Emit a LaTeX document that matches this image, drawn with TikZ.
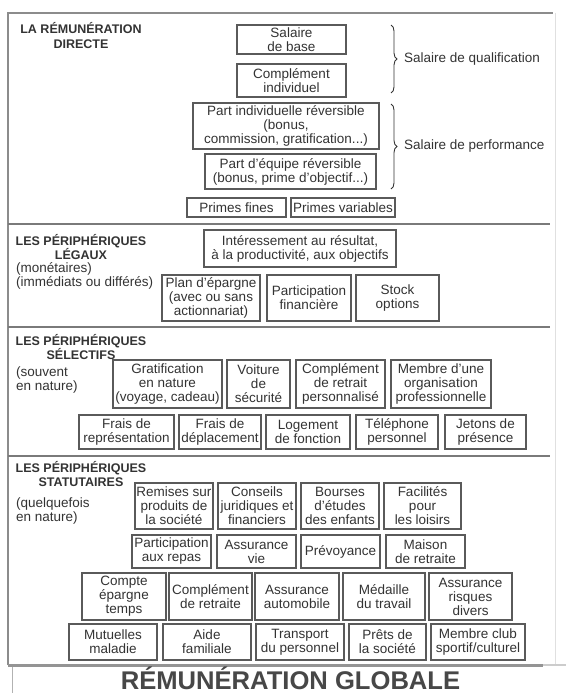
\documentclass[tikz,border=0pt]{standalone}
\usepackage{fontspec}
\setmainfont{Liberation Sans}
\usetikzlibrary{decorations.pathreplacing}
\definecolor{ink}{HTML}{333333}
\definecolor{boxline}{HTML}{5A5A5A}
\definecolor{rulec}{HTML}{7A7A7A}
\tikzset{
  bx/.style={draw=boxline, line width=1.1pt, inner sep=0pt, align=center, text=ink,
    font=\fontsize{13.5}{14}\selectfont},
  head/.style={font=\bfseries\fontsize{12.5}{14.5}\selectfont, align=center, inner sep=0pt, text=ink},
  sub/.style={font=\fontsize{13.5}{14}\selectfont, align=left, inner sep=0pt, text=ink},
  bracec/.style={draw=ink, line width=0.9pt, decorate, decoration={brace, amplitude=6pt}},
  sepline/.style={draw=rulec, line width=1.3pt},
}
\newcommand\bx[6]{\node[bx, minimum width={#4-#2}, minimum height={#5-#3}] (#1) at ({(#2+#4)/2},{(#3+#5)/2}) {#6};}
\begin{document}
\begin{tikzpicture}[x=1pt, y=-1pt]
\useasboundingbox (0,0) rectangle (566,693);
\fill[white] (0,0) rectangle (566,693);
% frame
\draw[black!45, line width=1.5pt] (8,665) -- (8,13) -- (553,13);
\draw[black!12, line width=1pt] (555,13) -- (555,665);
\draw[black!20, line width=1.5pt] (543,665) -- (566,665);
\draw[black!42, line width=3pt] (8,665) -- (543,665);
\draw[black!30, line width=1pt] (12,667) -- (12,693);
% separators
\draw[sepline] (8,224) -- (550,224);
\draw[sepline] (8,327) -- (550,327);
\draw[sepline] (8,456) -- (550,456);
% section 1
\node[head, anchor=base] (h1) at (81,48.5) {LA RÉMUNÉRATION\\DIRECTE};
\bx{sb}{237}{25}{346}{54}{Salaire\\de base}
\bx{ci}{237}{64}{346}{97}{Complément\\individuel}
\bx{pi}{193}{103}{379}{149}{Part individuelle réversible\\(bonus,\\commission, gratification...)}
\bx{pe}{205}{154}{376}{189}{Part d’équipe réversible\\(bonus, prime d’objectif...)}
\bx{pf}{187}{198}{286}{217}{Primes fines}
\bx{pv}{291}{198}{395}{217}{Primes variables}
\draw[bracec] (391,25) -- (391,93) coordinate[midway] (b1);
\draw[bracec] (391,104) -- (391,189) coordinate[midway] (b2);
\node[sub, anchor=west] (q) at (404,59) {Salaire de qualification};
\node[sub, anchor=west] (p) at (404,146) {Salaire de performance};
% section 2
\node[head, anchor=base] (h2) at (81,259.5) {LES PÉRIPHÉRIQUES\\LÉGAUX};
\node[sub, anchor=base west] (s2) at (16,286) {(monétaires)\\(immédiats ou différés)};
\bx{ir}{204}{230}{396}{267}{Intéressement au résultat,\\à la productivité, aux objectifs}
\bx{pl}{162}{275}{260}{321}{Plan d’épargne\\(avec ou sans\\actionnariat)}
\bx{pa}{267}{275}{351}{321}{Participation\\financière}
\bx{so}{356}{275}{439}{321}{Stock\\options}
% section 3
\node[head, anchor=base] (h3) at (81,359.5) {LES PÉRIPHÉRIQUES\\SÉLECTIFS};
\node[sub, anchor=base west] (s3) at (16,390) {(souvent\\en nature)};
\bx{gn}{113}{360}{222}{408}{Gratification\\en nature\\(voyage, cadeau)}
\bx{vs}{227}{360}{290}{408}{Voiture\\de\\sécurité}
\bx{cr}{296}{360}{385}{408}{Complément\\de retrait\\personnalisé}
\bx{mo}{391}{360}{491}{408}{Membre d’une\\organisation\\professionnelle}
\bx{fr}{79}{415}{174}{449}{Frais de\\représentation}
\bx{fd}{179}{415}{261}{449}{Frais de\\déplacement}
\bx{lf}{266}{415}{350}{449}{Logement\\de fonction}
\bx{tp}{356}{415}{438}{449}{Téléphone\\personnel}
\bx{jp}{445}{415}{526}{449}{Jetons de\\présence}
% section 4
\node[head, anchor=base] (h4) at (81,486.5) {LES PÉRIPHÉRIQUES\\STATUTAIRES};
\node[sub, anchor=base west] (s4) at (16,521) {(quelquefois\\en nature)};
\bx{rs}{135}{483}{213}{529}{Remises sur\\produits de\\la société}
\bx{cj}{218}{483}{296}{529}{Conseils\\juridiques et\\financiers}
\bx{be}{301}{483}{379}{529}{Bourses\\d’études\\des enfants}
\bx{fl}{384}{483}{461}{529}{Facilités\\pour\\les loisirs}
\bx{pr}{132}{535}{211}{568}{Participation\\aux repas}
\bx{av}{217}{535}{296}{568}{Assurance\\vie}
\bx{pw}{301}{535}{380}{568}{Prévoyance}
\bx{mr}{386}{535}{465}{568}{Maison\\de retraite}
\bx{ce}{82}{573}{166}{620}{Compte\\épargne\\temps}
\bx{cr2}{169}{573}{252}{620}{Complément\\de retraite}
\bx{aa}{255}{573}{339}{620}{Assurance\\automobile}
\bx{mt}{343}{573}{425}{620}{Médaille\\du travail}
\bx{ar}{429}{573}{512}{620}{Assurance\\risques\\divers}
\bx{mm}{69}{624}{157}{660}{Mutuelles\\maladie}
\bx{af}{163}{624}{251}{660}{Aide\\familiale}
\bx{tr}{256}{624}{344}{660}{Transport\\du personnel}
\bx{ps}{349}{624}{426}{660}{Prêts de\\la société}
\bx{mc}{431}{624}{525}{660}{Membre club\\sportif/culturel}
% title
\node[font=\bfseries\fontsize{25.6}{28}\selectfont, text=black!72, anchor=base, inner sep=0pt] (title) at (290.5,689) {RÉMUNÉRATION GLOBALE};
\end{tikzpicture}
\end{document}
